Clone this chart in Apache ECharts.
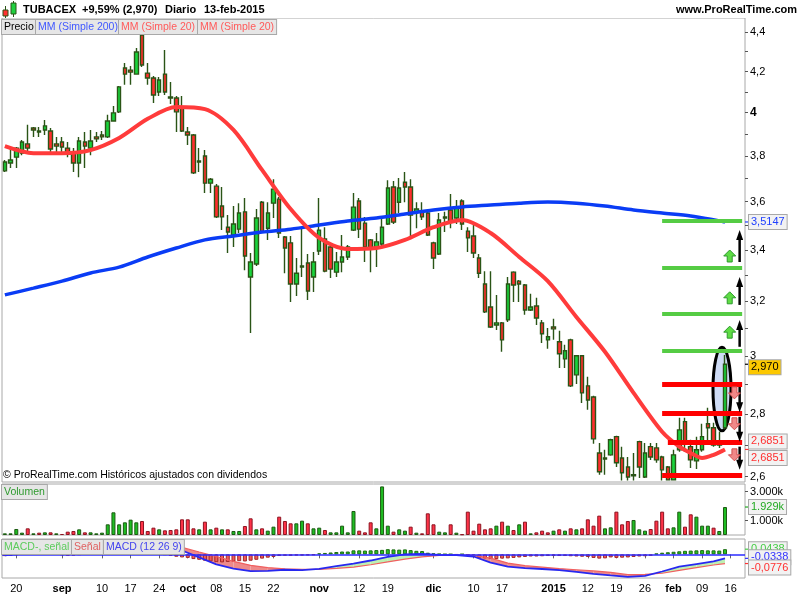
<!DOCTYPE html>
<html><head><meta charset="utf-8">
<script src="https://cdn.jsdelivr.net/npm/echarts@6.0.0/dist/echarts.min.js"></script>
<style>html,body{margin:0;padding:0;background:#fff}#c{width:800px;height:600px}</style>
</head><body><div id="c"></div>
<script>
// ---------------- DATA ----------------
const dates = [
'2014-08-18','2014-08-19','2014-08-20','2014-08-21','2014-08-22','2014-08-25','2014-08-26','2014-08-27','2014-08-28','2014-08-29',
'2014-09-01','2014-09-02','2014-09-03','2014-09-04','2014-09-05','2014-09-08','2014-09-09','2014-09-10','2014-09-11','2014-09-12',
'2014-09-15','2014-09-16','2014-09-17','2014-09-18','2014-09-19','2014-09-22','2014-09-23','2014-09-24','2014-09-25','2014-09-26',
'2014-09-29','2014-09-30',
'2014-10-01','2014-10-02','2014-10-03','2014-10-06','2014-10-07','2014-10-08','2014-10-09','2014-10-10','2014-10-13','2014-10-14',
'2014-10-15','2014-10-16','2014-10-17','2014-10-20','2014-10-21','2014-10-22','2014-10-23','2014-10-24','2014-10-27','2014-10-28',
'2014-10-29','2014-10-30','2014-10-31',
'2014-11-03','2014-11-04','2014-11-05','2014-11-06','2014-11-07','2014-11-10','2014-11-11','2014-11-12','2014-11-13','2014-11-14',
'2014-11-17','2014-11-18','2014-11-19','2014-11-20','2014-11-21','2014-11-24','2014-11-25','2014-11-26','2014-11-27','2014-11-28',
'2014-12-01','2014-12-02','2014-12-03','2014-12-04','2014-12-05','2014-12-08','2014-12-09','2014-12-10','2014-12-11','2014-12-12',
'2014-12-15','2014-12-16','2014-12-17','2014-12-18','2014-12-19','2014-12-22','2014-12-23','2014-12-24','2014-12-29','2014-12-30',
'2014-12-31',
'2015-01-02','2015-01-05','2015-01-06','2015-01-07','2015-01-08','2015-01-09','2015-01-12','2015-01-13','2015-01-14','2015-01-15',
'2015-01-16','2015-01-19','2015-01-20','2015-01-21','2015-01-22','2015-01-23','2015-01-26','2015-01-27','2015-01-28','2015-01-29',
'2015-01-30',
'2015-02-02','2015-02-03','2015-02-04','2015-02-05','2015-02-06','2015-02-09','2015-02-10','2015-02-11','2015-02-12','2015-02-13',
'2015-02-16','2015-02-17','2015-02-18'];

const opens = [
3.734,3.769,3.795,3.813,3.855,3.928,3.914,3.919,3.914,3.855,
3.864,3.836,3.813,3.769,3.864,3.836,3.887,3.896,3.887,3.961,
4.004,4.217,4.207,4.187,4.385,4.192,4.168,4.099,4.187,4.075,
4.070,4.022,3.910,3.896,3.778,3.800,3.680,3.667,3.582,3.493,
3.461,3.485,3.557,3.293,3.344,3.598,3.489,3.594,3.611,3.453,
3.429,3.266,3.336,3.348,3.293,3.396,3.445,3.412,3.312,3.352,
3.372,3.481,3.603,3.510,3.441,3.408,3.424,3.506,3.663,3.598,
3.684,3.663,3.557,3.557,3.552,3.429,3.384,3.536,3.565,3.531,
3.603,3.477,3.457,3.368,3.266,3.178,3.111,3.119,3.130,3.312,
3.277,3.262,3.167,3.182,3.119,3.057,3.104,3.050,2.989,3.057,
2.933,3.000,2.895,2.857,2.674,2.658,2.668,2.726,2.658,2.630,
2.606,2.710,2.599,2.694,2.690,2.661,2.630,2.590,2.684,2.775,
2.694,2.649,2.684,2.768,2.755,2.699,2.755];
const closes = [
3.773,3.782,3.836,3.864,3.836,3.919,3.910,3.938,3.832,3.845,
3.841,3.813,3.769,3.868,3.845,3.868,3.878,3.887,3.961,3.999,
4.124,4.187,4.197,4.298,4.232,4.168,4.085,4.158,4.099,4.070,
4.004,3.914,3.896,3.725,3.773,3.680,3.697,3.536,3.536,3.473,
3.506,3.552,3.376,3.352,3.531,3.473,3.552,3.654,3.469,3.408,
3.266,3.308,3.332,3.239,3.352,3.481,3.316,3.324,3.352,3.372,
3.412,3.577,3.485,3.412,3.404,3.433,3.493,3.659,3.514,3.659,
3.663,3.544,3.569,3.536,3.461,3.368,3.523,3.531,3.514,3.577,
3.506,3.449,3.388,3.308,3.160,3.104,3.119,3.057,3.266,3.262,
3.266,3.167,3.178,3.137,3.079,3.068,3.097,3.007,3.018,2.895,
3.000,2.871,2.847,2.719,2.615,2.655,2.716,2.643,2.612,2.599,
2.603,2.630,2.674,2.661,2.652,2.621,2.590,2.668,2.748,2.710,
2.652,2.684,2.726,2.755,2.699,2.710,2.970];
const lows = [
3.729,3.747,3.747,3.804,3.813,3.887,3.887,3.896,3.818,3.818,
3.818,3.795,3.729,3.706,3.747,3.804,3.864,3.873,3.882,3.957,
3.999,4.134,4.134,4.187,4.222,4.134,4.046,4.080,4.085,4.041,
3.910,3.910,3.850,3.720,3.729,3.637,3.637,3.531,3.481,3.388,
3.412,3.469,3.320,3.082,3.336,3.469,3.441,3.531,3.449,3.308,
3.197,3.220,3.293,3.205,3.235,3.380,3.312,3.289,3.293,3.312,
3.360,3.477,3.449,3.352,3.312,3.332,3.412,3.502,3.506,3.552,
3.598,3.457,3.489,3.523,3.457,3.324,3.380,3.473,3.489,3.506,
3.481,3.392,3.368,3.289,3.156,3.100,3.093,3.014,3.122,3.197,
3.197,3.149,3.163,3.111,3.046,3.025,3.057,2.957,2.957,2.891,
2.901,2.837,2.814,2.703,2.606,2.606,2.665,2.630,2.588,2.588,
2.588,2.596,2.596,2.652,2.643,2.588,2.588,2.588,2.678,2.678,
2.627,2.624,2.678,2.706,2.694,2.690,2.750];
const highs = [
3.782,3.841,3.841,3.873,3.943,3.933,3.933,3.966,3.928,3.887,
3.887,3.864,3.836,3.887,3.910,3.919,3.910,3.914,3.990,4.032,
4.129,4.242,4.227,4.318,4.395,4.242,4.178,4.173,4.308,4.148,
4.080,4.080,3.933,3.901,3.836,3.827,3.702,3.676,3.663,3.544,
3.582,3.594,3.616,3.388,3.569,3.603,3.598,3.697,3.620,3.457,
3.457,3.368,3.489,3.384,3.392,3.616,3.493,3.416,3.392,3.461,
3.420,3.637,3.616,3.536,3.445,3.469,3.531,3.693,3.689,3.702,
3.729,3.697,3.598,3.598,3.561,3.433,3.552,3.557,3.633,3.607,
3.611,3.493,3.502,3.384,3.316,3.316,3.224,3.122,3.293,3.316,
3.281,3.266,3.228,3.213,3.130,3.100,3.134,3.090,3.039,3.061,
3.003,3.003,2.926,2.861,2.706,2.684,2.719,2.729,2.694,2.661,
2.674,2.713,2.706,2.706,2.706,2.665,2.633,2.684,2.788,2.788,
2.716,2.726,2.768,2.821,2.771,2.742,3.003];

const volumes = [
115,115,414,161,460,115,161,184,184,115,
69,230,276,391,184,184,115,161,736,1564,
736,874,1058,874,966,276,506,391,322,345,
391,1081,1081,460,391,920,391,506,391,391,
276,276,621,1150,391,460,299,575,1265,966,
805,805,989,805,460,506,345,184,184,644,
184,1656,299,184,874,460,3350,644,230,391,
299,575,161,115,1495,736,230,184,736,161,
46,1610,299,782,391,460,644,920,644,345,
736,920,115,184,299,184,299,391,299,460,
391,460,1081,644,1334,460,529,1610,736,966,
1035,391,299,414,989,1610,460,529,1610,575,
1426,1265,644,644,506,276,1929];

const ma20Idx  = [0,5,10,15,20,25,30,35,40,45,50,55,60,65,70,75,80,85,90,95,100,105,110,115,118,120,122,124,126];
const ma20Vals = [3.845,3.813,3.813,3.827,3.882,3.971,4.027,4.017,3.919,3.738,3.569,3.449,3.404,3.408,3.441,3.493,3.523,3.469,3.372,3.277,3.141,3.014,2.871,2.742,2.694,2.674,2.658,2.668,2.6851];
const ma200Idx  = [0,5,10,15,20,25,30,35,40,45,50,55,60,65,70,75,80,85,90,95,100,105,110,115,120,125,126];
const ma200Vals = [3.224,3.250,3.277,3.309,3.332,3.372,3.408,3.441,3.457,3.473,3.485,3.502,3.519,3.531,3.548,3.565,3.578,3.586,3.594,3.599,3.594,3.582,3.565,3.552,3.540,3.519,3.5147];

const macdIdx = [0,4,8,12,16,20,24,28,31,34,37,40,43,46,49,52,55,58,61,64,67,70,73,76,79,82,85,88,91,94,97,100,103,106,109,112,115,118,121,124,126];
const macdVals = [-0.008,0.010,0.020,0.012,0.025,0.060,0.095,0.085,0.033,-0.025,-0.085,-0.121,-0.141,-0.140,-0.130,-0.134,-0.122,-0.100,-0.078,-0.052,-0.022,0.000,0.004,-0.004,-0.006,-0.018,-0.070,-0.104,-0.116,-0.124,-0.134,-0.148,-0.165,-0.178,-0.190,-0.182,-0.145,-0.104,-0.082,-0.060,-0.0338];
const signalVals = [0.006,0.004,0.012,0.022,0.017,0.030,0.069,0.089,0.059,0.020,-0.018,-0.059,-0.093,-0.112,-0.122,-0.126,-0.127,-0.118,-0.108,-0.088,-0.064,-0.040,-0.022,-0.008,-0.006,-0.008,-0.032,-0.074,-0.096,-0.108,-0.120,-0.130,-0.140,-0.152,-0.172,-0.170,-0.160,-0.136,-0.112,-0.090,-0.0776];
const histVals = [
-0.015,-0.012,-0.005,0.003,0.006,0.010,0.012,0.012,0.008,0.002,
-0.006,-0.012,-0.010,-0.004,0.002,0.006,0.008,0.010,0.016,0.022,
0.030,0.034,0.030,0.030,0.026,0.018,0.010,0.004,-0.004,-0.012,
-0.020,-0.026,-0.030,-0.040,-0.046,-0.054,-0.060,-0.066,-0.068,-0.064,
-0.062,-0.058,-0.060,-0.054,-0.046,-0.036,-0.028,-0.022,-0.014,-0.012,
-0.012,-0.010,-0.010,-0.008,-0.006,0.008,0.012,0.016,0.020,0.024,
0.024,0.034,0.034,0.032,0.034,0.036,0.038,0.044,0.042,0.040,
0.042,0.036,0.030,0.028,0.014,0.008,0.004,0.002,0.002,-0.002,
0.002,-0.004,-0.012,-0.028,-0.034,-0.040,-0.040,-0.036,-0.034,-0.030,
-0.026,-0.022,-0.018,-0.018,-0.016,-0.014,-0.014,-0.014,-0.014,-0.016,
-0.018,-0.020,-0.022,-0.030,-0.036,-0.034,-0.026,-0.030,-0.028,-0.026,
-0.022,-0.018,-0.016,-0.012,0.006,0.014,0.018,0.022,0.026,0.030,
0.032,0.034,0.036,0.034,0.034,0.032,0.0438];

const priceTicks = [4.4,4.2,4,3.8,3.6,3.4,3.2,3,2.8,2.6];
const priceMinorTicks = [4.3,4.1,3.9,3.7,3.5,3.3,3.1,2.9,2.7];
const volumeTicks = [1000,3000];
const xTickDates = ['2014-08-20','2014-09-01','2014-09-10','2014-09-17','2014-09-24','2014-10-01','2014-10-08','2014-10-15','2014-10-22','2014-11-03','2014-11-12','2014-11-19','2014-12-01','2014-12-10','2014-12-17','2015-01-02','2015-01-12','2015-01-19','2015-01-26','2015-02-02','2015-02-09','2015-02-16'];
const xTickTexts = ['20','sep','10','17','24','oct','08','15','22','nov','12','19','dic','10','17','2015','12','19','26','feb','09','16'];
const boldTicks = ['sep','oct','nov','dic','2015','feb'];

const greenLevels = [3.520,3.328,3.152,3.018];
const redLevels = [2.900,2.803,2.709,2.605];
const upArrowRanges = [[3.032,3.130],[3.186,3.293],[3.352,3.481]];
const downArrowRanges = [[2.891,2.806],[2.791,2.710],[2.694,2.621]];
const upIcons = [3.085,3.213,3.376];
const downIcons = [2.871,2.768,2.668];
const ellipseRange = [3.03,2.745];

const lastClose = 2.970, lastMA200 = 3.5147, lastMA20 = 2.6851, lastVolume = 1929;
const lastHist = 0.0438, lastMacd = -0.0338, lastSignal = -0.0776;

// ---------------- CHART ----------------
const FONT = '"Liberation Sans", Arial, sans-serif';
const chart = echarts.init(document.getElementById('c'), null, {renderer:'canvas'});
const L = Math.log;

const candleData = opens.map((o,i)=>[L(o), L(closes[i]), L(lows[i]), L(highs[i])]);
const volData = volumes.map((v,i)=>{
  const prev = i>0 ? closes[i-1] : opens[i];
  const up = closes[i] >= prev;
  return {value:v, itemStyle:{color: up?'#1ebd22':'#ff3348', borderColor: up?'#1c5a12':'#8c1420'}};
});
const histData = histVals.map(v=>({value:v, itemStyle:{color: v>=0?'#26c426':'#f05a5a', borderColor: v>=0?'#1c6a12':'#a02828'}}));
const markSeg = (from, to, p, color, w)=>[{coord:[from, L(p)], lineStyle:{color, width:w, type:'solid'}}, {coord:[to, L(p)]}];

const gridCommon = {left:2, right:55, show:true, borderColor:'#a8a8a8', borderWidth:1, backgroundColor:'#fff'};
const xHidden = (gi)=>({type:'category', gridIndex:gi, data:dates, boundaryGap:true, axisLine:{show:false}, axisTick:{show:false}, axisLabel:{show:false}, splitLine:{show:false}});

const option = {
  animation:false,
  backgroundColor:'#fff',
  textStyle:{fontFamily:FONT},
  grid:[
    Object.assign({top:18, height:464}, gridCommon),
    Object.assign({top:484, height:51}, gridCommon),
    Object.assign({top:539, height:39}, gridCommon)
  ],
  xAxis:[
    xHidden(0), xHidden(1),
    {type:'category', gridIndex:2, data:dates, boundaryGap:true,
     axisLine:{show:false},
     axisTick:{show:true, alignWithLabel:true, length:4, lineStyle:{color:'#666'}, interval:(i,v)=>xTickDates.includes(v)},
     axisLabel:{interval:(i,v)=>xTickDates.includes(v), margin:5, fontSize:11, color:'#000', fontFamily:FONT,
       formatter:(v)=>{const k=xTickDates.indexOf(v); if(k<0) return ''; const t=xTickTexts[k]; return boldTicks.includes(t)?'{b|'+t+'}':t;},
       rich:{b:{fontWeight:'bold', fontSize:11, fontFamily:FONT, color:'#000'}}},
     splitLine:{show:false}}
  ],
  yAxis:[
    {type:'value', gridIndex:0, position:'right', min:L(2.5836), max:L(4.4745),
     axisLine:{show:false}, splitLine:{show:false},
     axisTick:{show:true, length:3, lineStyle:{color:'#555'}, customValues:priceTicks.concat(priceMinorTicks).map(L)},
     axisLabel:{margin:5, fontSize:11, color:'#000', fontFamily:FONT, customValues:priceTicks.map(L),
       formatter:(v)=>{const s=String(Math.round(Math.exp(v)*10)/10).replace('.',','); return s==='4'?'{b|4}':s;},
       rich:{b:{fontWeight:'bold', fontSize:12, fontFamily:FONT, color:'#000'}}}},
    {type:'value', gridIndex:1, position:'right', min:0, max:3517,
     axisLine:{show:false}, splitLine:{show:false},
     axisTick:{show:true, length:3, lineStyle:{color:'#555'}, customValues:volumeTicks},
     axisLabel:{margin:5, fontSize:11, color:'#000', fontFamily:FONT, customValues:volumeTicks, formatter:(v)=>(v/1000).toFixed(3)+'k'}},
    {type:'value', gridIndex:2, position:'right', min:-0.2, max:0.13,
     axisLine:{show:false}, splitLine:{show:false}, axisTick:{show:false}, axisLabel:{show:false}}
  ],
  series:[
    {type:'candlestick', name:'Precio', xAxisIndex:0, yAxisIndex:0, data:candleData, barWidth:4,
     itemStyle:{color:'#19d43c', color0:'#ff2d2d', borderColor:'#2a5416', borderColor0:'#2a5416', borderWidth:1.4}},
    {type:'line', name:'MM200', xAxisIndex:0, yAxisIndex:0, data:ma200Idx.map((k,j)=>[k, L(ma200Vals[j])]),
     smooth:0.3, showSymbol:false, lineStyle:{color:'#0a3cf5', width:3.5}, z:3},
    {type:'line', name:'MM20', xAxisIndex:0, yAxisIndex:0, data:ma20Idx.map((k,j)=>[k, L(ma20Vals[j])]),
     smooth:0.3, showSymbol:false, lineStyle:{color:'#ff3b3b', width:4}, z:3},
    {type:'line', name:'levels', xAxisIndex:0, yAxisIndex:0, data:[], z:4,
     markLine:{silent:true, symbol:['none','none'], label:{show:false}, animation:false,
       data: greenLevels.map(p=>markSeg(115,129,p,'#55cc44',4)).concat(
             redLevels.map((p,j)=>markSeg(j===2?116:115,129,p,'#ff0000',5)))}},
    {type:'bar', name:'Volumen', xAxisIndex:1, yAxisIndex:1, data:volData, barWidth:4, itemStyle:{borderWidth:1}},
    {type:'custom', name:'fill', xAxisIndex:2, yAxisIndex:2, z:1, clip:true,
     data: macdIdx.slice(0,-1).map((k,j)=>[k,0,j]), encode:{x:0, y:1},
     renderItem:(params, api)=>{
       const j = api.value(2);
       const a = macdIdx[j], b = macdIdx[j+1];
       const pm1 = api.coord([a, macdVals[j]]), pm2 = api.coord([b, macdVals[j+1]]);
       const ps1 = api.coord([a, signalVals[j]]), ps2 = api.coord([b, signalVals[j+1]]);
       const d1 = macdVals[j]-signalVals[j], d2 = macdVals[j+1]-signalVals[j+1];
       const col = d => d>=0 ? '#bdf0b2' : '#ee8a8a';
       let children;
       if (d1*d2 < 0) {
         const t = d1/(d1-d2);
         const pc = [pm1[0]+(pm2[0]-pm1[0])*t, pm1[1]+(pm2[1]-pm1[1])*t];
         children = [{type:'polygon', shape:{points:[pm1,pc,ps1]}, style:{fill:col(d1)}},
                     {type:'polygon', shape:{points:[pc,pm2,ps2]}, style:{fill:col(d2)}}];
       } else {
         children = [{type:'polygon', shape:{points:[pm1,pm2,ps2,ps1]}, style:{fill:col(d1+d2)}}];
       }
       return {type:'group', children};
     }},
    {type:'bar', name:'MACD-, señal', xAxisIndex:2, yAxisIndex:2, data:histData, barWidth:4, itemStyle:{borderWidth:1}, z:2,
     markLine:{silent:true, symbol:['none','none'], label:{show:false}, data:[{yAxis:0}], lineStyle:{color:'#2b2bff', width:1.5, type:'solid'}}},
    {type:'line', name:'Señal', xAxisIndex:2, yAxisIndex:2, data:macdIdx.map((k,j)=>[k, signalVals[j]]),
     showSymbol:false, lineStyle:{color:'#f06060', width:1.2}, z:3},
    {type:'line', name:'MACD', xAxisIndex:2, yAxisIndex:2, data:macdIdx.map((k,j)=>[k, macdVals[j]]),
     showSymbol:false, lineStyle:{color:'#2828f0', width:1.8}, z:4}
  ]
};
chart.setOption(option);

// ---------------- OVERLAYS ----------------
const P = (g, idx, v) => chart.convertToPixel({gridIndex:g}, [idx, v]);
const gr = [];
const LEG = '10.5px '+FONT;
const box = (x, y, text, color, bg, z, font) => ({type:'text', x, y, z: z||100,
  style:{text, fill:color, font: font || ('11px '+FONT), backgroundColor:bg||'#e6e6e6', borderColor:'#a8a8a8', borderWidth:1,
         padding:[2,2,1,2], verticalAlign:'middle', align:'left'}});
const plain = (x, y, text, color, font, align) => ({type:'text', x, y, z:100,
  style:{text, fill:color, font, verticalAlign:'middle', align:align||'left'}});

// header
gr.push({type:'rect', z:99, shape:{x:0,y:0,width:800,height:18}, style:{fill:'#fff'}});
gr.push({type:'line', z:100, shape:{x1:5.5,y1:6,x2:5.5,y2:18}, style:{stroke:'#2a5416', lineWidth:1}});
gr.push({type:'rect', z:101, shape:{x:3,y:10,width:5,height:6}, style:{fill:'#ff3030', stroke:'#2a5416', lineWidth:1}});
gr.push({type:'line', z:100, shape:{x1:13.5,y1:1,x2:13.5,y2:17}, style:{stroke:'#2a5416', lineWidth:1}});
gr.push({type:'rect', z:101, shape:{x:11,y:3,width:5,height:11}, style:{fill:'#20d040', stroke:'#2a5416', lineWidth:1}});
const HF = 'bold 11px '+FONT;
gr.push(plain(23, 10, 'TUBACEX', '#000', HF));
gr.push(plain(82, 10, '+9,59% (2,970)', '#000', HF));
gr.push(plain(165, 10, 'Diario', '#000', HF));
gr.push(plain(204, 10, '13-feb-2015', '#000', HF));
gr.push(plain(797, 10, 'www.ProRealTime.com', '#000', HF, 'right'));

// legend boxes
gr.push(box(2, 27, 'Precio', '#000', null, 100, LEG));
gr.push(box(36, 27, 'MM (Simple 200)', '#4058ff', null, 101, LEG));
gr.push(box(119, 27, 'MM (Simple 20)', '#ff5a5a', null, 102, LEG));
gr.push(box(198, 27, 'MM (Simple 20)', '#ff5a5a', null, 103, LEG));
gr.push(box(2, 492, 'Volumen', '#2e9a2e', null, 100, LEG));
gr.push(box(2, 547, 'MACD-, señal', '#5ccc5c', null, 100, LEG));
gr.push(box(72, 547, 'Señal', '#e06060', null, 101, LEG));
gr.push(box(104, 547, 'MACD (12 26 9)', '#4444ee', null, 102, LEG));
gr.push(plain(3, 475, '© ProRealTime.com Históricos ajustados con dividendos', '#000', '10.5px '+FONT));

// ellipse around last candle
{
  const pt = P(0, 126, L(ellipseRange[0])), pb = P(0, 126, L(ellipseRange[1]));
  gr.push({type:'ellipse', z:1, shape:{cx:pt[0]-3, cy:(pt[1]+pb[1])/2, rx:9, ry:(pb[1]-pt[1])/2},
           style:{fill:'#cfdcf6', stroke:'#000', lineWidth:3}});
}
// black arrows
upArrowRanges.concat(downArrowRanges).forEach(([p0,p1])=>{
  const x = P(0,129,L(p0))[0] - 2.5;
  const y0 = P(0,129,L(p0))[1], y1 = P(0,129,L(p1))[1];
  const dir = y1 > y0 ? 1 : -1;
  gr.push({type:'line', z:50, shape:{x1:x,y1:y0,x2:x,y2:y1-dir*7}, style:{stroke:'#000', lineWidth:2.5}});
  gr.push({type:'polygon', z:50, shape:{points:[[x,y1],[x-3.5,y1-dir*10],[x+3.5,y1-dir*10]]}, style:{fill:'#000'}});
});
// block arrows
upIcons.forEach(p=>{
  const c = P(0,127,L(p)); const cx = c[0]-1, cy = c[1];
  gr.push({type:'polygon', z:50, shape:{points:[[cx,cy-6],[cx+6,cy],[cx+2.5,cy],[cx+2.5,cy+6],[cx-2.5,cy+6],[cx-2.5,cy],[cx-6,cy]]},
           style:{fill:'#5fdc45', stroke:'#2c9a2c', lineWidth:1}});
});
downIcons.forEach(p=>{
  const c = P(0,128,L(p)); const cx = c[0]-2, cy = c[1];
  gr.push({type:'polygon', z:50, shape:{points:[[cx,cy+6],[cx+6,cy],[cx+2.5,cy],[cx+2.5,cy-6],[cx-2.5,cy-6],[cx-2.5,cy],[cx-6,cy]]},
           style:{fill:'#f08888', stroke:'#d05050', lineWidth:1}});
});

// axis value boxes
const tick = (y, color) => ({type:'line', z:100, shape:{x1:745,y1:y,x2:749,y2:y}, style:{stroke:color, lineWidth:1.2}});
{
  const y200 = P(0,126,L(lastMA200))[1];
  gr.push(tick(y200,'#2040ff')); gr.push(box(749, y200, '3,5147', '#2040ff', '#f2f2f2'));
  const yc = P(0,126,L(lastClose))[1];
  gr.push(tick(yc,'#000')); gr.push(box(749, yc+3, '2,970', '#000', '#fcc800'));
  const y20 = P(0,126,L(lastMA20))[1];
  gr.push(tick(y20,'#ff3030'));
  gr.push(box(749, y20-8, '2,6851', '#ff3030', '#f2f2f2'));
  gr.push(box(749, y20+8.5, '2,6851', '#ff3030', '#f2f2f2'));
  const yv = P(1,126,lastVolume)[1];
  gr.push(tick(yv,'#22aa22')); gr.push(box(749, yv, '1.929k', '#22aa22', '#f2f2f2'));
  const yh = P(2,126,lastHist)[1], ym = P(2,126,lastMacd)[1], ys = P(2,126,lastSignal)[1];
  gr.push(tick(yh,'#44cc44')); gr.push(tick(ym,'#3030ff')); gr.push(tick(ys,'#ff3030'));
  gr.push(box(749, yh, '0.0438', '#44cc44', '#f2f2f2', 100));
  gr.push(box(749, ym-1, '-0.0338', '#3030ff', '#f2f2f2', 101));
  gr.push(box(749, ys+4, '-0,0776', '#ff3030', '#f2f2f2', 102));
}
chart.setOption({graphic: gr});
</script></body></html>
